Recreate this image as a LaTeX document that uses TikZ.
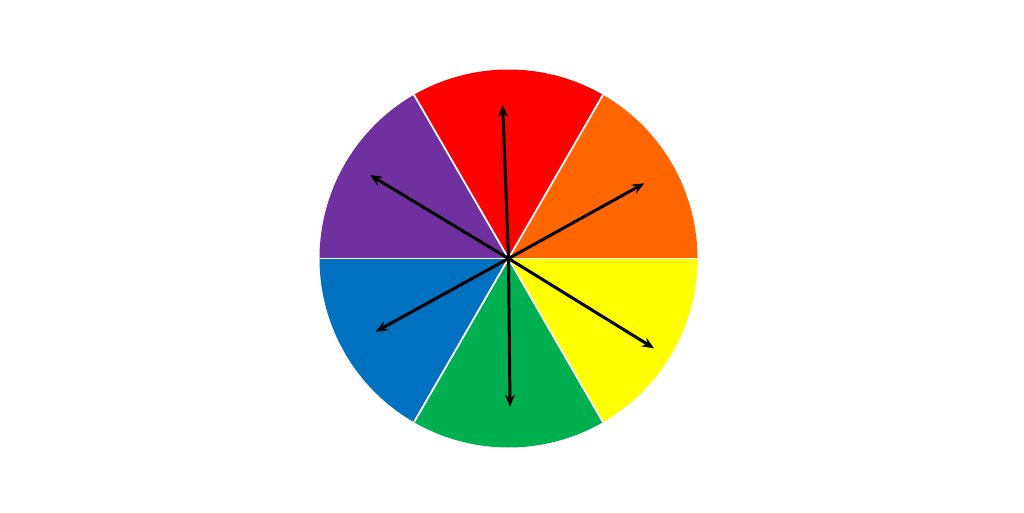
\documentclass[tikz,border=0pt]{standalone}
\usetikzlibrary{arrows.meta}
\definecolor{wred}{RGB}{255,0,0}
\definecolor{worange}{RGB}{255,102,0}
\definecolor{wyellow}{RGB}{255,255,0}
\definecolor{wgreen}{RGB}{0,176,80}
\definecolor{wblue}{RGB}{0,112,192}
\definecolor{wpurple}{RGB}{112,48,160}
\tikzset{
  sep/.style={white, line width=1.8pt},
  ray/.style={black, line width=3pt, -{Stealth[length=12pt,width=10pt]}}
}
\begin{document}
\begin{tikzpicture}[x=1pt,y=1pt]
\useasboundingbox (0,0) rectangle (1024,512);
\fill[white] (0,0) rectangle (1024,512);
\coordinate (c) at (508.5,253.5);
\def\R{189}
\foreach \a/\col in {0/worange,60/wred,120/wpurple,180/wblue,240/wgreen,300/wyellow}{
  \fill[\col] (c) -- ++(\a:\R) arc[start angle=\a, end angle=\a+60, radius=\R] -- cycle;
}
\foreach \a in {0,60,120,180,240,300}{
  \draw[sep] (c) -- ++(\a:\R);
}
\coordinate (t) at (502.7,407);
\coordinate (b) at (510,105.3);
\coordinate (ul) at (370,337);
\coordinate (lr) at (654,163.7);
\coordinate (ur) at (644.3,328.7);
\coordinate (ll) at (375.7,180.3);
\foreach \e in {t,b,ul,lr,ur,ll}{
  \draw[ray] (c) -- (\e);
}
\end{tikzpicture}
\end{document}
